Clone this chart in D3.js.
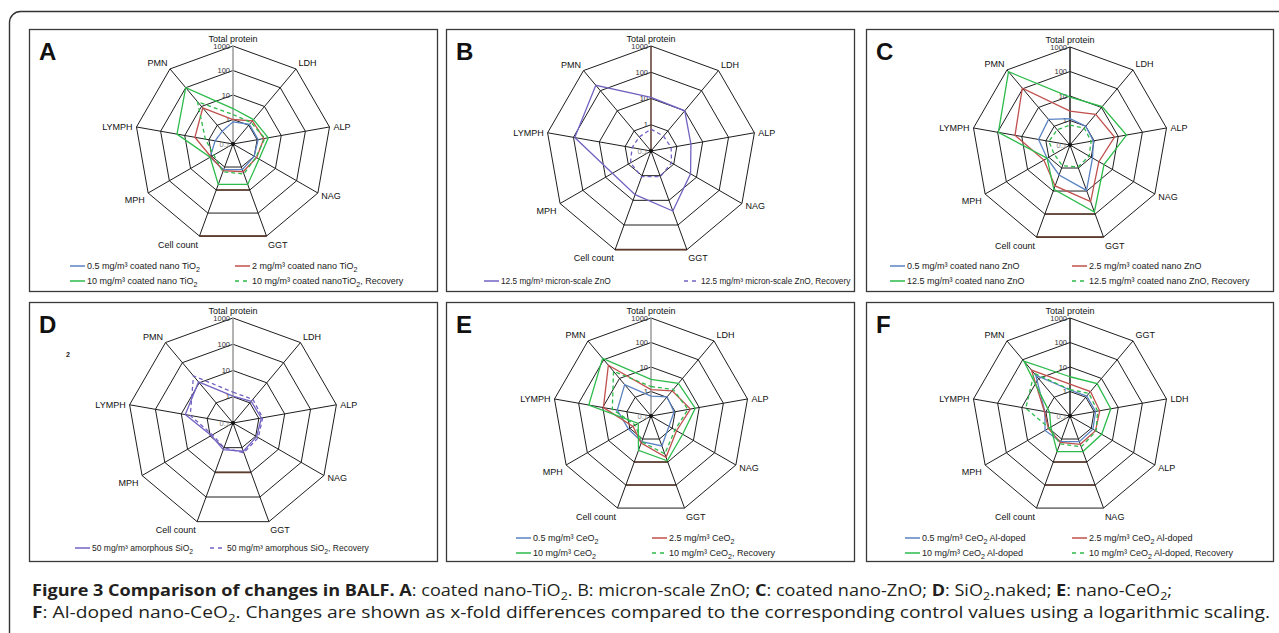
<!DOCTYPE html>
<html>
<head>
<meta charset="utf-8">
<script src="https://cdn.jsdelivr.net/npm/d3@7/dist/d3.min.js"></script>
<style>
  body { margin: 0; background: #fff; }
  svg { display: block; font-family: "Liberation Sans", Arial, sans-serif; }
</style>
</head>
<body>
<svg id="chart" width="1279" height="633"></svg>
<script>
// spoke order, clockwise from the top
const axesStd = ["Total protein", "LDH", "ALP", "NAG", "GGT", "Cell count", "MPH", "LYMPH", "PMN"];
const axesAlt = ["Total protein", "GGT", "LDH", "ALP", "NAG", "Cell count", "MPH", "LYMPH", "PMN"];
const ringValues = [1, 10, 100, 1000];
const tickValues = [1000, 100, 10, 1, 0.1];
const tickLabels = ["1000", "100", "10", "1", "0.1"];

// A: coated nano-TiO2 (x-fold of control)
const tio2Low = [0.8, 1.1, 1.1, 1.0, 1.3, 1.3, 1.2, 0.55, 0.48];
const tio2Mid = [1.0, 1.7, 1.9, 1.3, 1.6, 1.45, 1.1, 3.8, 8.3];
const tio2High = [2.8, 2.0, 2.9, 1.7, 5.7, 5.7, 1.2, 21, 100];
const tio2Rec = [1.6, 1.4, 2.1, 1.2, 2.0, 1.6, 0.8, 1.4, 18];
// B: micron-scale ZnO
const znoMicro = [11, 10, 3.5, 5.5, 27, 5.9, 5, 89, 186];
const znoMicroRec = [0.68, 0.55, 0.6, 0.8, 1.1, 1.1, 0.8, 0.54, 0.5];
// C: coated nano-ZnO
const znoLow = [1.2, 1.0, 0.93, 1.15, 9.4, 2.0, 1.2, 2.0, 2.3];
const znoMid = [2.4, 4.3, 7, 2.3, 29, 6, 1.7, 19, 107];
const znoHigh = [9, 11, 22, 4, 81, 8.5, 1.2, 93, 800];
const znoRec = [0.65, 0.8, 0.75, 0.8, 0.9, 0.8, 0.56, 0.75, 0.65];
// D: amorphous SiO2
const sio2 = [1.05, 1.2, 1.25, 1.1, 1.4, 1.2, 0.9, 7, 11];
const sio2Rec = [1.5, 1.5, 1.4, 1.3, 1.6, 1.0, 0.8, 4.5, 22];
// E: nano-CeO2
const ceo2Low = [0.65, 1.05, 0.9, 0.7, 2.0, 1.3, 1.15, 2.5, 4.7];
const ceo2Mid = [1.2, 2.2, 4.3, 1.6, 6.2, 1.5, 0.7, 9.4, 51];
const ceo2High = [3.1, 5.5, 6.8, 3.1, 8.8, 3.1, 0.4, 38, 118];
const ceo2Rec = [1.6, 2.6, 3.4, 1.35, 4.4, 1.3, 0.55, 4, 24];
// F: Al-doped nano-CeO2 (axis order axesAlt)
const alLow = [1.15, 1.15, 1.15, 1.2, 1.3, 1.3, 1.5, 1.1, 15];
const alMid = [2.0, 2.0, 1.7, 1.6, 1.7, 1.4, 1.05, 1.15, 28];
const alHigh = [4, 5.3, 4.9, 3.1, 3.5, 3.5, 0.8, 0.7, 85];
const alRec = [1.2, 1.6, 1.4, 1.7, 2.2, 1.6, 0.95, 6.8, 19];

// legend texts ("_2" marks a subscript)
const legendA = ["0.5 mg/m³ coated nano TiO_2", "2 mg/m³ coated nano TiO_2", "10 mg/m³ coated nano TiO_2", "10 mg/m³ coated nanoTiO_2, Recovery"];
const legendB = ["12.5 mg/m³ micron-scale ZnO", "12.5 mg/m³ micron-scale ZnO, Recovery"];
const legendC = ["0.5 mg/m³ coated nano ZnO", "2.5 mg/m³ coated nano ZnO", "12.5 mg/m³ coated nano ZnO", "12.5 mg/m³ coated nano ZnO, Recovery"];
const legendD = ["50 mg/m³ amorphous SiO_2", "50 mg/m³ amorphous SiO_2, Recovery"];
const legendE = ["0.5 mg/m³ CeO_2", "2.5 mg/m³ CeO_2", "10 mg/m³ CeO_2", "10 mg/m³ CeO_2, Recovery"];
const legendF = ["0.5 mg/m³ CeO_2 Al-doped", "2.5 mg/m³ CeO_2 Al-doped", "10 mg/m³ CeO_2 Al-doped", "10 mg/m³ CeO_2 Al-doped, Recovery"];

const blue = "#5a82c2", red = "#c0504d", green = "#2dbb4b", purple = "#7462c2";
const brown = "#5e3b2c";

const four = (vals, labels) => [
  { values: vals[0], color: blue, dash: false, label: labels[0] },
  { values: vals[1], color: red, dash: false, label: labels[1] },
  { values: vals[2], color: green, dash: false, label: labels[2] },
  { values: vals[3], color: green, dash: true, label: labels[3] }
];
const two = (vals, labels) => [
  { values: vals[0], color: purple, dash: false, label: labels[0] },
  { values: vals[1], color: purple, dash: true, label: labels[1] }
];

// layout of each panel: box, radar centre/radius, legend columns/rows
const panels = [
  { id: "A", x: 29, y: 29, w: 408, h: 262, cx: 204, cy: 115, r: 98, axes: axesStd, topSpoke: "#9a9a9a", brownRings: [10, 1000],
    series: four([tio2Low, tio2Mid, tio2High, tio2Rec], legendA), cols: [41, 206], rows: [237, 252], fs: 9 },
  { id: "B", x: 446, y: 29, w: 408, h: 262, cx: 205, cy: 122, r: 105, axes: axesStd, topSpoke: brown, brownRings: [1000],
    series: two([znoMicro, znoMicroRec], legendB), cols: [38, 238], rows: [252], fs: 8.3 },
  { id: "C", x: 866, y: 29, w: 407, h: 262, cx: 204, cy: 116, r: 98, axes: axesStd, topSpoke: "#222", brownRings: [100, 1000],
    series: four([znoLow, znoMid, znoHigh, znoRec], legendC), cols: [24, 206], rows: [237, 252], fs: 9 },
  { id: "D", x: 29, y: 302, w: 408, h: 259, cx: 204, cy: 121, r: 105, axes: axesStd, topSpoke: "#9a9a9a", brownRings: [10],
    series: two([sio2, sio2Rec], legendD), cols: [46, 181], rows: [246], fs: 8.5 },
  { id: "E", x: 446, y: 302, w: 408, h: 259, cx: 205, cy: 114, r: 98, axes: axesStd, topSpoke: "#9a9a9a", brownRings: [10, 100],
    series: four([ceo2Low, ceo2Mid, ceo2High, ceo2Rec], legendE), cols: [70, 206], rows: [236, 251], fs: 9 },
  { id: "F", x: 866, y: 302, w: 407, h: 259, cx: 204, cy: 114, r: 98, axes: axesAlt, topSpoke: "#222", brownRings: [10, 100],
    series: four([alLow, alMid, alHigh, alRec], legendF), cols: [39, 206], rows: [236, 251], fs: 9 }
];

const svg = d3.select("#chart");

// outer rounded frame
svg.append("rect")
  .attr("x", 9.5).attr("y", 11.5).attr("width", 1300).attr("height", 650).attr("rx", 11)
  .attr("fill", "none").attr("stroke", "#333").attr("stroke-width", 1.4);

// writes "TiO_2" style text with a lowered 2
function subText(sel, str, size) {
  const parts = str.split("_");
  sel.append("tspan").text(parts[0]);
  parts.slice(1).forEach(p => {
    sel.append("tspan").attr("dy", size * 0.3).attr("font-size", size * 0.8).text(p[0]);
    if (p.length > 1) sel.append("tspan").attr("dy", -size * 0.3).text(p.slice(1));
  });
}

panels.forEach(p => {
  const g = svg.append("g").attr("transform", `translate(${p.x},${p.y})`);
  g.append("rect").attr("x", 0.5).attr("y", 0.5).attr("width", p.w).attr("height", p.h)
    .attr("fill", "none").attr("stroke", "#3a3a3a").attr("stroke-width", 1.3);
  g.append("text").attr("x", 10).attr("y", 31).attr("font-size", 24).attr("font-weight", "bold")
    .attr("fill", "#111").text(p.id);

  const radar = g.append("g").attr("transform", `translate(${p.cx},${p.cy})`);
  const rScale = d3.scaleLog().domain([0.1, 1000]).range([0, p.r]);
  const n = p.axes.length;
  const angle = d3.scaleLinear().domain([0, n]).range([0, 2 * Math.PI]);
  const radial = d3.lineRadial().angle((d, i) => angle(i)).radius(d => rScale(d)).curve(d3.curveLinearClosed);
  const pt = (v, i) => [rScale(v) * Math.sin(angle(i)), -rScale(v) * Math.cos(angle(i))];

  // rings
  radar.selectAll(".ring").data(ringValues).join("path")
    .attr("d", v => radial(p.axes.map(() => v)))
    .attr("fill", "none").attr("stroke", "#1e1e1e").attr("stroke-width", 1);

  // a few bottom ring segments print brownish in the original
  radar.selectAll(".brown").data(p.brownRings).join("line")
    .attr("x1", v => pt(v, 4)[0]).attr("y1", v => pt(v, 4)[1])
    .attr("x2", v => pt(v, 5)[0]).attr("y2", v => pt(v, 5)[1])
    .attr("stroke", brown).attr("stroke-width", 1.6);

  // spokes
  radar.selectAll(".spoke").data(p.axes).join("line")
    .attr("x1", 0).attr("y1", 0)
    .attr("x2", (d, i) => p.r * Math.sin(angle(i)))
    .attr("y2", (d, i) => -p.r * Math.cos(angle(i)))
    .attr("stroke", (d, i) => i === 0 ? p.topSpoke : "#1e1e1e")
    .attr("stroke-width", (d, i) => i === 0 ? 1.5 : 1);

  // tick labels on the top spoke
  radar.selectAll(".tick").data(tickValues).join("text")
    .attr("x", -3).attr("y", v => -rScale(v) + 2.5)
    .attr("text-anchor", "end").attr("font-size", 7.5)
    .attr("fill", (v, i) => i === 4 ? "#888" : "#333")
    .text((v, i) => tickLabels[i]);

  // axis labels
  radar.selectAll(".lab").data(p.axes).join("text")
    .attr("x", (d, i) => (p.r + 4) * Math.sin(angle(i)))
    .attr("y", (d, i) => {
      const c = Math.cos(angle(i));
      const y = -(p.r + 4) * c;
      return c > 0.5 ? y : (c < -0.5 ? y + 8 : y + 3.5);
    })
    .attr("text-anchor", (d, i) => {
      const s = Math.sin(angle(i));
      return Math.abs(s) < 0.1 ? "middle" : (s > 0 ? "start" : "end");
    })
    .attr("font-size", 9).attr("fill", "#111").text(d => d);

  // data polygons
  radar.selectAll(".series").data(p.series).join("path")
    .attr("d", s => radial(s.values))
    .attr("fill", "none").attr("stroke", s => s.color).attr("stroke-width", 1.3)
    .attr("stroke-dasharray", s => s.dash ? "4,3" : null);

  radar.append("circle").attr("r", 2).attr("fill", "#111");

  // legend
  p.series.forEach((s, i) => {
    const lx = p.cols[i % 2], ly = p.rows[Math.floor(i / 2)];
    g.append("line").attr("x1", lx).attr("x2", lx + 15).attr("y1", ly).attr("y2", ly)
      .attr("stroke", s.color).attr("stroke-width", 1.5)
      .attr("stroke-dasharray", s.dash ? "4,4" : null);
    const t = g.append("text").attr("x", lx + 17).attr("y", ly + 3)
      .attr("font-size", p.fs).attr("fill", "#222");
    subText(t, s.label, p.fs);
  });
});

// stray subscript left over in panel D
svg.append("text").attr("x", 66).attr("y", 357).attr("font-size", 7).attr("font-weight", "bold")
  .attr("fill", "#222").text("2");

// caption
const line1 = [
  ["Figure 3 Comparison of changes in BALF. ", "b"], ["A", "b"], [": coated nano-TiO"], ["2", "s"],
  [". B: micron-scale ZnO; "], ["C", "b"], [": coated nano-ZnO; "], ["D", "b"], [": SiO"], ["2", "s"],
  [".naked; "], ["E", "b"], [": nano-CeO"], ["2", "s"], [";"]
];
const line2 = [
  ["F", "b"], [": Al-doped nano-CeO"], ["2", "s"],
  [". Changes are shown as x-fold differences compared to the corresponding control values using a logarithmic scaling."]
];
function caption(parts, y, len) {
  const t = svg.append("text").attr("x", 32).attr("y", y).attr("font-size", 16)
    .attr("font-family", "'Open Sans', 'Noto Sans', sans-serif").attr("fill", "#231f20")
    .attr("textLength", len).attr("lengthAdjust", "spacingAndGlyphs");
  let lowered = false;
  parts.forEach(([txt, k]) => {
    const ts = t.append("tspan").text(txt);
    if (k === "s") {
      ts.attr("dy", 4).attr("font-size", 11);
      lowered = true;
    } else {
      if (lowered) { ts.attr("dy", -4); lowered = false; }
      if (k === "b") ts.attr("font-weight", "bold");
    }
  });
}
caption(line1, 596, 1140);
caption(line2, 618, 1238);
</script>
</body>
</html>
